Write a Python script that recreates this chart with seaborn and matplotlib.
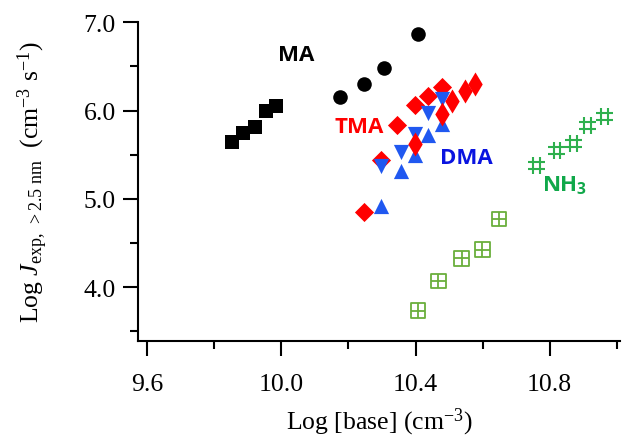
import numpy as np
import pandas as pd
import matplotlib
matplotlib.use("Agg")
import matplotlib.pyplot as plt
from matplotlib.path import Path
from matplotlib.ticker import MultipleLocator
import seaborn as sns

# ---- data: log10 base concentration (cm^-3) vs log10 formation rate J (cm^-3 s^-1)
ma_sq_x = [9.852, 9.885, 9.921, 9.953, 9.985]
ma_sq_y = [5.648, 5.743, 5.811, 6.000, 6.049]

ma_ci_x = [10.176, 10.246, 10.306, 10.408]
ma_ci_y = [6.157, 6.298, 6.479, 6.871]

tma_big_x = [10.246, 10.296, 10.345, 10.397, 10.436, 10.479]
tma_big_y = [4.848, 5.437, 5.837, 6.063, 6.162, 6.264]

tma_thin_x = [10.397, 10.479, 10.508, 10.548, 10.578]
tma_thin_y = [5.622, 5.961, 6.112, 6.225, 6.301]

dma_down_x = [10.296, 10.357, 10.397, 10.436, 10.479]
dma_down_y = [5.376, 5.535, 5.735, 5.969, 6.131]

dma_up_x = [10.296, 10.357, 10.397, 10.436, 10.479]
dma_up_y = [4.923, 5.319, 5.497, 5.724, 5.848]

nh3_box_x = [10.407, 10.468, 10.538, 10.599, 10.649]
nh3_box_y = [3.734, 4.067, 4.327, 4.425, 4.772]

nh3_hash_x = [10.760, 10.822, 10.871, 10.913, 10.963]
nh3_hash_y = [5.376, 5.546, 5.630, 5.829, 5.935]

x_ticks = [9.6, 10.0, 10.4, 10.8]
y_ticks = [4.0, 5.0, 6.0, 7.0]

# ---- style
sns.set_theme(style="ticks")
plt.rcParams["font.family"] = ["Liberation Serif", "DejaVu Serif"]
plt.rcParams["text.color"] = "black"
plt.rcParams["axes.labelcolor"] = "black"
plt.rcParams["xtick.color"] = "black"
plt.rcParams["ytick.color"] = "black"
plt.rcParams["mathtext.fontset"] = "custom"
plt.rcParams["mathtext.rm"] = "Liberation Serif"
plt.rcParams["mathtext.it"] = "Liberation Serif:italic"
plt.rcParams["mathtext.bf"] = "Liberation Serif:bold"

RED = "#ff0000"
BLUE = "#2058f0"
DARKBLUE = "#0a14e0"
GREEN_BOX = "#6aaf3c"
GREEN_HASH = "#2eb04e"
GREEN_TXT = "#10a84a"

# custom marker shapes: boxed plus and hash sign
box_plus = Path(
    [(-0.5, -0.5), (0.5, -0.5), (0.5, 0.5), (-0.5, 0.5), (-0.5, -0.5),
     (0.0, -0.5), (0.0, 0.5), (-0.5, 0.0), (0.5, 0.0)],
    [Path.MOVETO, Path.LINETO, Path.LINETO, Path.LINETO, Path.CLOSEPOLY,
     Path.MOVETO, Path.LINETO, Path.MOVETO, Path.LINETO],
)
hash_sign = Path(
    [(-0.2, -0.5), (-0.2, 0.5), (0.2, -0.5), (0.2, 0.5),
     (-0.5, -0.2), (0.5, -0.2), (-0.5, 0.2), (0.5, 0.2)],
    [Path.MOVETO, Path.LINETO, Path.MOVETO, Path.LINETO,
     Path.MOVETO, Path.LINETO, Path.MOVETO, Path.LINETO],
)

fig = plt.figure(figsize=(6.26, 4.39), dpi=100)
ax = fig.add_axes([0.2204, 0.221, 0.770, 0.726])

def pts(x, y, **kw):
    sns.scatterplot(x=x, y=y, ax=ax, legend=False, zorder=3, **kw)

pts(ma_sq_x, ma_sq_y, marker="s", s=95, color="black", edgecolor="black", linewidth=0)
pts(ma_ci_x, ma_ci_y, marker="o", s=110, color="black", edgecolor="black", linewidth=0)
pts(tma_big_x, tma_big_y, marker="D", s=95, color=RED, edgecolor=RED, linewidth=0)
pts(dma_down_x, dma_down_y, marker="v", s=120, color=BLUE, edgecolor=BLUE, linewidth=0)
pts(dma_up_x, dma_up_y, marker="^", s=120, color=BLUE, edgecolor=BLUE, linewidth=0)
pts(tma_thin_x, tma_thin_y, marker="d", s=150, color=RED, edgecolor=RED, linewidth=0)
pts(nh3_box_x, nh3_box_y, marker=box_plus, s=110, color=GREEN_BOX,
    facecolor="none", edgecolor=GREEN_BOX, linewidth=1.3)
pts(nh3_hash_x, nh3_hash_y, marker=hash_sign, s=150, color=GREEN_HASH,
    facecolor="none", edgecolor=GREEN_HASH, linewidth=1.5)

# series labels
lab = dict(family=["Open Sans", "DejaVu Sans"], fontweight="bold", fontsize=16,
           ha="center", va="center")
ax.text(10.045, 6.64, "MA", color="black", **lab)
ax.text(10.232, 5.82, "TMA", color=RED, **lab)
ax.text(10.552, 5.47, "DMA", color=DARKBLUE, **lab)
ax.text(10.845, 5.17, r"NH$_\mathregular{3}$", color=GREEN_TXT, **lab)

# axes
ax.set_xlim(9.572, 11.01)
ax.set_ylim(3.39, 7.0)
ax.set_xticks(x_ticks)
ax.set_xticklabels([f"{v:.1f}" for v in x_ticks])
ax.set_yticks(y_ticks)
ax.set_yticklabels([f"{v:.1f}" for v in y_ticks])
ax.xaxis.set_minor_locator(MultipleLocator(0.2))
ax.yaxis.set_minor_locator(MultipleLocator(0.5))

for side in ("top", "right"):
    ax.spines[side].set_visible(False)
for side in ("left", "bottom"):
    ax.spines[side].set_linewidth(1.5)
    ax.spines[side].set_color("black")

ax.tick_params(which="major", length=11, width=1.5, labelsize=18.5,
               color="black", labelcolor="black", direction="out")
ax.tick_params(which="minor", length=6, width=1.5, color="black", direction="out")
ax.tick_params(axis="x", which="major", pad=12)
ax.tick_params(axis="y", which="major", pad=5)

ax.set_xlabel(r"Log [base] (cm$^{\mathregular{-3}}$)", fontsize=18.5, labelpad=8)
ax.set_ylabel(r"Log $\mathit{J}_{\mathregular{exp,\ >2.5\ nm}}$  (cm$^{\mathregular{-3}}$ s$^{\mathregular{-1}}$)",
              fontsize=18.5, labelpad=24)

fig.savefig("out.png", dpi=100)
